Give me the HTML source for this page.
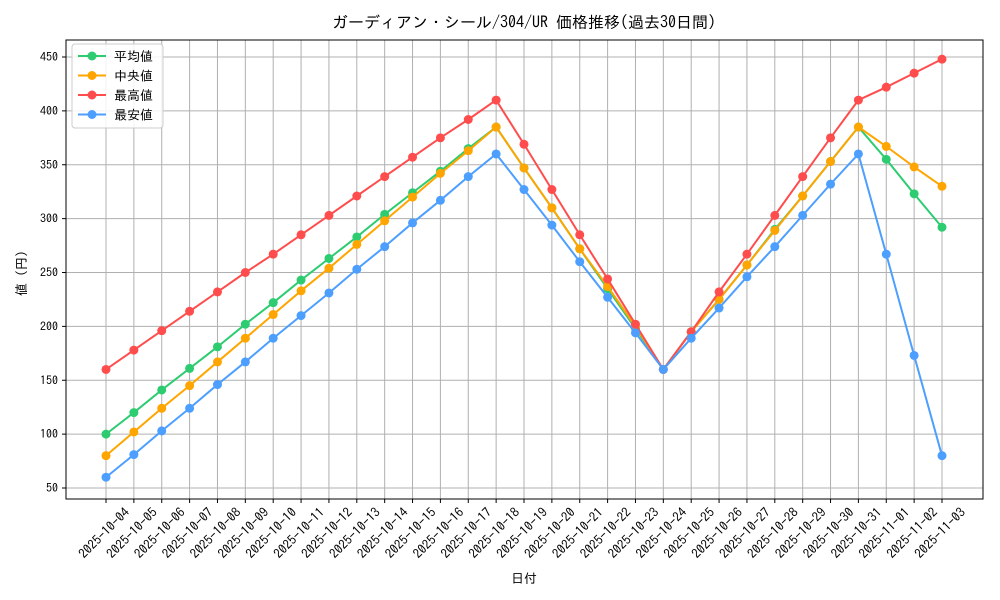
<!DOCTYPE html>
<html><head><meta charset="utf-8"><style>
body{margin:0;background:#fff}
svg{display:block;font-family:"IPAGothic","Noto Sans CJK JP",sans-serif}
</style></head><body>
<svg id="chart" width="1000" height="600" xmlns="http://www.w3.org/2000/svg">
<rect width="1000" height="600" fill="#fff"/>
<text x="524" y="28" text-anchor="middle" font-size="16">ガーディアン・シール/304/UR 価格推移(過去30日間)</text>
<g id="grid"></g>
<g id="series"></g>
<rect x="66" y="40" width="917" height="459" fill="none" stroke="#000" stroke-width="1"/>
<g id="ticks"></g>
<text x="524" y="583" text-anchor="middle" font-size="13">日付</text>
<text x="0" y="0" transform="translate(26,270) rotate(-90)" text-anchor="middle" font-size="13">値（円）</text>
<g id="legend"></g>
</svg>
<script>
const dates=["2025-10-04","2025-10-05","2025-10-06","2025-10-07","2025-10-08","2025-10-09","2025-10-10","2025-10-11","2025-10-12","2025-10-13","2025-10-14","2025-10-15","2025-10-16","2025-10-17","2025-10-18","2025-10-19","2025-10-20","2025-10-21","2025-10-22","2025-10-23","2025-10-24","2025-10-25","2025-10-26","2025-10-27","2025-10-28","2025-10-29","2025-10-30","2025-10-31","2025-11-01","2025-11-02","2025-11-03"];
const meanVals=[100,120,141,161,181,202,222,243,263,283,304,324,344,365,385,347,310,272,235,198,160,195,225,257,290,321,353,385,355,323,292];
const medianVals=[80,102,124,145,167,189,211,233,254,276,298,320,342,363,385,347,310,272,237,200,160,195,225,257,289,321,353,385,367,348,330];
const maxVals=[160,178,196,214,232,250,267,285,303,321,339,357,375,392,410,369,327,285,244,202,160,195,232,267,303,339,375,410,422,435,448];
const minVals=[60,81,103,124,146,167,189,210,231,253,274,296,317,339,360,327,294,260,227,194,160,189,217,246,274,303,332,360,267,173,80];
const yTicks=[50,100,150,200,250,300,350,400,450];
const seriesNames=["平均値","中央値","最高値","最安値"];
const NS="http://www.w3.org/2000/svg";
const X0=106,X1=942,Y50=488,Y450=57;
const xs=i=>X0+(X1-X0)*i/(dates.length-1);
const ys=v=>Y50+(v-50)*(Y450-Y50)/400;
function mk(tag,attrs,parent){const e=document.createElementNS(NS,tag);for(const k in attrs)e.setAttribute(k,attrs[k]);parent.appendChild(e);return e;}
const grid=document.getElementById('grid'),ticks=document.getElementById('ticks');
dates.forEach((d,i)=>{
 const g=mk('line',{x1:xs(i),x2:xs(i),y1:40,y2:499,stroke:'#b0b0b0','stroke-width':1},grid);
 
 
 const t=mk('line',{x1:xs(i),x2:xs(i),y1:499,y2:503,stroke:'#000'},ticks);
 
 
 const l=mk('text',{x:0,y:4.5,transform:`translate(${xs(i)-2},${533}) rotate(-45)`,'text-anchor':'middle','font-size':13},ticks);
 l.textContent=d;
 
 
});
yTicks.forEach(v=>{
 const g=mk('line',{x1:66,x2:983,y1:ys(v),y2:ys(v),stroke:'#b0b0b0','stroke-width':1},grid);
 
 
 const t=mk('line',{x1:62,x2:66,y1:ys(v),y2:ys(v),stroke:'#000'},ticks);
 
 
 const l=mk('text',{x:58,y:ys(v)+4,'text-anchor':'end','font-size':12},ticks);
 l.textContent=v;
 
 
});
const S=document.getElementById('series');
const all=[meanVals,medianVals,maxVals,minVals];
const colors=['#2ecc71','#ffa500','#ff4d4d','#4d9fff'];
const keys=['mean','median','max','min'];
all.forEach((vals,k)=>{
 const g=mk('g',{},S);
 
 
 const p=mk('polyline',{points:vals.map((v,i)=>xs(i)+','+ys(v)).join(' '),fill:'none',stroke:colors[k],'stroke-width':2},g);
 
 
 vals.forEach((v,i)=>{
  const c=mk('circle',{cx:xs(i),cy:ys(v),r:4.5,fill:colors[k]},g);
  
  
 });
});
const L=document.getElementById('legend');
const box=mk('rect',{x:72,y:44,width:91,height:84,rx:3,fill:'#fff','fill-opacity':0.85,stroke:'#ccc'},L);


seriesNames.forEach((n,k)=>{
 const y=56+k*19.5;
 const g=mk('g',{},L);
 
 
 mk('line',{x1:78,x2:106,y1:y,y2:y,stroke:colors[k],'stroke-width':2},g);
 mk('circle',{cx:92,cy:y,r:4.5,fill:colors[k]},g);
 const t=mk('text',{x:114,y:y+5,'font-size':13},g);
 t.textContent=n;
});
</script>
</body></html>
